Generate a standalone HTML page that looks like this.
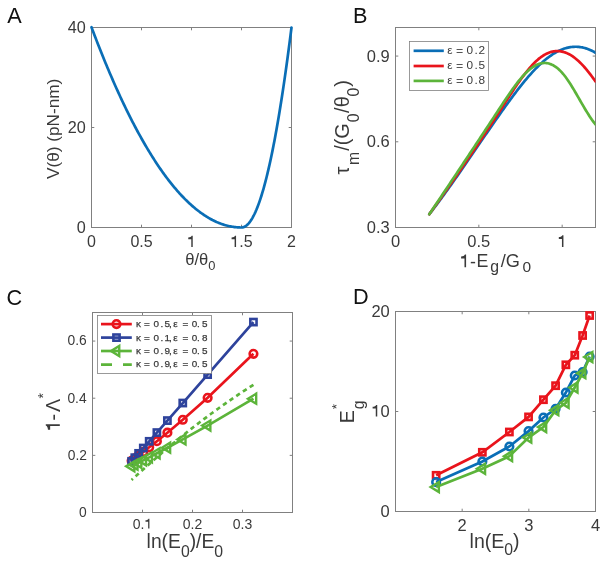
<!DOCTYPE html>
<html><head><meta charset="utf-8"><style>
html,body{margin:0;padding:0;background:#fff;}
body{width:607px;height:565px;overflow:hidden;font-family:"Liberation Sans", sans-serif;}
svg{display:block;will-change:transform;}
</style></head><body>
<svg width="607" height="565" viewBox="0 0 607 565" font-family='"Liberation Sans", sans-serif'><path d="M91.5 227.5v-2.8M91.5 27.5v2.8M141.5 227.5v-2.8M141.5 27.5v2.8M191.5 227.5v-2.8M191.5 27.5v2.8M241.5 227.5v-2.8M241.5 27.5v2.8M291.5 227.5v-2.8M291.5 27.5v2.8M91.5 227.5h2.8M291.5 227.5h-2.8M91.5 127.5h2.8M291.5 127.5h-2.8M91.5 27.5h2.8M291.5 27.5h-2.8" stroke="#808080" stroke-width="1" fill="none"/>
<rect x="91.5" y="27.5" width="200" height="200" stroke="#808080" stroke-width="1" fill="none"/>
<path d="M91.5 27.25L92.5 29.91L93.5 32.55L94.5 35.18L95.5 37.79L96.5 40.38L97.5 42.95L98.5 45.5L99.5 48.04L100.5 50.56L101.5 53.06L102.5 55.54L103.5 58.01L104.5 60.46L105.5 62.89L106.5 65.3L107.5 67.69L108.5 70.07L109.5 72.43L110.5 74.77L111.5 77.09L112.5 79.4L113.5 81.68L114.5 83.95L115.5 86.2L116.5 88.44L117.5 90.65L118.5 92.85L119.5 95.03L120.5 97.2L121.5 99.34L122.5 101.47L123.5 103.58L124.5 105.67L125.5 107.74L126.5 109.8L127.5 111.84L128.5 113.86L129.5 115.86L130.5 117.84L131.5 119.81L132.5 121.76L133.5 123.69L134.5 125.6L135.5 127.5L136.5 129.38L137.5 131.24L138.5 133.08L139.5 134.9L140.5 136.71L141.5 138.5L142.5 140.27L143.5 142.02L144.5 143.76L145.5 145.48L146.5 147.18L147.5 148.86L148.5 150.52L149.5 152.17L150.5 153.8L151.5 155.41L152.5 157L153.5 158.58L154.5 160.14L155.5 161.68L156.5 163.2L157.5 164.7L158.5 166.19L159.5 167.66L160.5 169.11L161.5 170.54L162.5 171.96L163.5 173.35L164.5 174.73L165.5 176.09L166.5 177.44L167.5 178.76L168.5 180.07L169.5 181.36L170.5 182.64L171.5 183.89L172.5 185.13L173.5 186.35L174.5 187.55L175.5 188.73L176.5 189.9L177.5 191.05L178.5 192.18L179.5 193.29L180.5 194.38L181.5 195.46L182.5 196.52L183.5 197.56L184.5 198.58L185.5 199.59L186.5 200.58L187.5 201.55L188.5 202.5L189.5 203.43L190.5 204.35L191.5 205.25L192.5 206.13L193.5 206.99L194.5 207.84L195.5 208.67L196.5 209.48L197.5 210.27L198.5 211.04L199.5 211.8L200.5 212.54L201.5 213.26L202.5 213.96L203.5 214.65L204.5 215.32L205.5 215.97L206.5 216.6L207.5 217.21L208.5 217.81L209.5 218.39L210.5 218.95L211.5 219.49L212.5 220.02L213.5 220.52L214.5 221.01L215.5 221.48L216.5 221.94L217.5 222.37L218.5 222.79L219.5 223.19L220.5 223.58L221.5 223.94L222.5 224.29L223.5 224.62L224.5 224.93L225.5 225.22L226.5 225.5L227.5 225.76L228.5 226L229.5 226.22L230.5 226.42L231.5 226.61L232.5 226.78L233.5 226.93L234.5 227.06L235.5 227.18L236.5 227.28L237.5 227.36L238.5 227.42L239.5 227.46L240.5 227.49L241.5 227.5L242.5 227.42L243.5 227.18L244.5 226.78L245.5 226.22L246.5 225.5L247.5 224.62L248.5 223.58L249.5 222.38L250.5 221.02L251.5 219.5L252.5 217.82L253.5 215.98L254.5 213.98L255.5 211.82L256.5 209.5L257.5 207.02L258.5 204.38L259.5 201.58L260.5 198.62L261.5 195.5L262.5 192.22L263.5 188.78L264.5 185.18L265.5 181.42L266.5 177.5L267.5 173.42L268.5 169.18L269.5 164.78L270.5 160.22L271.5 155.5L272.5 150.62L273.5 145.58L274.5 140.38L275.5 135.02L276.5 129.5L277.5 123.82L278.5 117.98L279.5 111.98L280.5 105.82L281.5 99.5L282.5 93.02L283.5 86.38L284.5 79.58L285.5 72.62L286.5 65.5L287.5 58.22L288.5 50.78L289.5 43.18L290.5 35.42L291.5 27.5" stroke="#0a6eb6" stroke-width="2.7" fill="none" stroke-linejoin="round" stroke-linecap="round"/>
<text x="87.05" y="247.07" font-size="16.0" fill="#3a3a3a" >0</text>
<text x="130.38" y="247.07" font-size="16.0" fill="#3a3a3a" >0.5</text>
<path d="M0.355,0L0.355,0.709L0.29,0.709C0.262,0.64 0.19,0.603 0.075,0.598L0.075,0.487L0.265,0.487L0.265,0Z" fill="#3a3a3a" transform="translate(187.05,247.07) scale(16.0,-16.0)"/>
<path d="M0.355,0L0.355,0.709L0.29,0.709C0.262,0.64 0.19,0.603 0.075,0.598L0.075,0.487L0.265,0.487L0.265,0Z" fill="#3a3a3a" transform="translate(230.38,247.07) scale(16.0,-16.0)"/><text x="239.28" y="247.07" font-size="16.0" fill="#3a3a3a" >.5</text>
<text x="287.05" y="247.07" font-size="16.0" fill="#3a3a3a" >2</text>
<text x="76.72" y="232.57" font-size="16.2" fill="#3a3a3a" >0</text>
<text x="67.71" y="132.57" font-size="16.2" fill="#3a3a3a" >20</text>
<text x="67.71" y="32.57" font-size="16.2" fill="#3a3a3a" >40</text>
<text x="0" y="0" font-size="17.2" fill="#3a3a3a" text-anchor="middle" transform="translate(59.1,128.85) rotate(-90)">V(θ) (pN-nm)</text>
<text x="185.24" y="265.3" font-size="16.6" fill="#3a3a3a">θ/θ<tspan font-size="12.9" dy="4.5">0</tspan></text>
<text x="0" y="0" font-size="22.6" fill="#111" transform="translate(7.26,22.6) scale(0.96,1)">A</text>
<path d="M395.5 227.5v-2.8M395.5 27.5v2.8M478.83 227.5v-2.8M478.83 27.5v2.8M562.17 227.5v-2.8M562.17 27.5v2.8M395.5 227.5h2.8M595.5 227.5h-2.8M395.5 141.79h2.8M595.5 141.79h-2.8M395.5 56.07h2.8M595.5 56.07h-2.8" stroke="#808080" stroke-width="1" fill="none"/>
<rect x="395.5" y="27.5" width="200" height="200" stroke="#808080" stroke-width="1" fill="none"/>
<clipPath id="cb"><rect x="395.5" y="27.5" width="200" height="200"/></clipPath>
<path d="M429.3 214.2L430.5 212.66L431.69 211.12L432.89 209.56L434.08 207.99L435.28 206.41L436.47 204.82L437.67 203.22L438.87 201.62L440.06 200L441.26 198.38L442.45 196.74L443.65 195.1L444.84 193.45L446.04 191.8L447.24 190.14L448.43 188.47L449.63 186.79L450.82 185.11L452.02 183.42L453.21 181.73L454.41 180.03L455.61 178.32L456.8 176.61L458 174.9L459.19 173.18L460.39 171.46L461.58 169.73L462.78 168.01L463.97 166.27L465.17 164.54L466.37 162.8L467.56 161.06L468.76 159.32L469.95 157.57L471.15 155.83L472.34 154.08L473.54 152.33L474.74 150.58L475.93 148.84L477.13 147.09L478.32 145.34L479.52 143.59L480.71 141.84L481.91 140.1L483.11 138.35L484.3 136.61L485.5 134.86L486.69 133.12L487.89 131.39L489.08 129.65L490.28 127.92L491.48 126.19L492.67 124.47L493.87 122.75L495.06 121.03L496.26 119.32L497.45 117.61L498.65 115.91L499.85 114.21L501.04 112.52L502.24 110.83L503.43 109.15L504.63 107.48L505.82 105.81L507.02 104.15L508.22 102.5L509.41 100.86L510.61 99.23L511.8 97.61L513 96L514.19 94.4L515.39 92.82L516.58 91.25L517.78 89.69L518.98 88.15L520.17 86.63L521.37 85.12L522.56 83.63L523.76 82.16L524.95 80.71L526.15 79.28L527.35 77.87L528.54 76.49L529.74 75.12L530.93 73.78L532.13 72.46L533.32 71.17L534.52 69.91L535.72 68.67L536.91 67.46L538.11 66.27L539.3 65.12L540.5 63.99L541.69 62.9L542.89 61.83L544.09 60.79L545.28 59.79L546.48 58.82L547.67 57.88L548.87 56.98L550.06 56.11L551.26 55.27L552.46 54.47L553.65 53.71L554.85 52.98L556.04 52.29L557.24 51.64L558.43 51.02L559.63 50.45L560.83 49.92L562.02 49.42L563.22 48.97L564.41 48.56L565.61 48.19L566.8 47.86L568 47.58L569.19 47.33L570.39 47.13L571.59 46.97L572.78 46.85L573.98 46.78L575.17 46.75L576.37 46.76L577.56 46.81L578.76 46.9L579.96 47.04L581.15 47.22L582.35 47.44L583.54 47.71L584.74 48.02L585.93 48.37L587.13 48.76L588.33 49.2L589.52 49.68L590.72 50.2L591.91 50.77L593.11 51.38L594.3 52.03L595.5 52.73" stroke="#0a6eb6" stroke-width="2.7" fill="none" stroke-linejoin="round" stroke-linecap="round" clip-path="url(#cb)"/>
<path d="M429.3 214.2L430.5 212.53L431.69 210.86L432.89 209.19L434.08 207.51L435.28 205.83L436.47 204.15L437.67 202.47L438.87 200.79L440.06 199.1L441.26 197.41L442.45 195.72L443.65 194.02L444.84 192.33L446.04 190.63L447.24 188.92L448.43 187.22L449.63 185.51L450.82 183.8L452.02 182.09L453.21 180.37L454.41 178.65L455.61 176.93L456.8 175.2L458 173.48L459.19 171.75L460.39 170.01L461.58 168.28L462.78 166.54L463.97 164.79L465.17 163.05L466.37 161.3L467.56 159.55L468.76 157.79L469.95 156.03L471.15 154.27L472.34 152.51L473.54 150.74L474.74 148.97L475.93 147.19L477.13 145.41L478.32 143.63L479.52 141.85L480.71 140.06L481.91 138.27L483.11 136.47L484.3 134.67L485.5 132.87L486.69 131.06L487.89 129.25L489.08 127.44L490.28 125.62L491.48 123.8L492.67 121.97L493.87 120.14L495.06 118.31L496.26 116.47L497.45 114.63L498.65 112.78L499.85 110.93L501.04 109.08L502.24 107.22L503.43 105.36L504.63 103.5L505.82 101.64L507.02 99.79L508.22 97.94L509.41 96.1L510.61 94.27L511.8 92.44L513 90.64L514.19 88.85L515.39 87.07L516.58 85.32L517.78 83.59L518.98 81.88L520.17 80.2L521.37 78.54L522.56 76.92L523.76 75.32L524.95 73.76L526.15 72.24L527.35 70.75L528.54 69.31L529.74 67.9L530.93 66.54L532.13 65.23L533.32 63.96L534.52 62.74L535.72 61.57L536.91 60.46L538.11 59.4L539.3 58.4L540.5 57.47L541.69 56.59L542.89 55.77L544.09 55.03L545.28 54.34L546.48 53.72L547.67 53.17L548.87 52.68L550.06 52.26L551.26 51.9L552.46 51.61L553.65 51.38L554.85 51.22L556.04 51.12L557.24 51.08L558.43 51.11L559.63 51.2L560.83 51.36L562.02 51.58L563.22 51.87L564.41 52.22L565.61 52.63L566.8 53.11L568 53.65L569.19 54.25L570.39 54.92L571.59 55.65L572.78 56.44L573.98 57.29L575.17 58.21L576.37 59.18L577.56 60.21L578.76 61.29L579.96 62.43L581.15 63.62L582.35 64.86L583.54 66.15L584.74 67.5L585.93 68.88L587.13 70.32L588.33 71.8L589.52 73.32L590.72 74.88L591.91 76.48L593.11 78.13L594.3 79.81L595.5 81.52" stroke="#e9141c" stroke-width="2.7" fill="none" stroke-linejoin="round" stroke-linecap="round" clip-path="url(#cb)"/>
<path d="M429.3 214.2L430.5 212.42L431.69 210.64L432.89 208.86L434.08 207.08L435.28 205.3L436.47 203.52L437.67 201.74L438.87 199.95L440.06 198.17L441.26 196.39L442.45 194.6L443.65 192.82L444.84 191.03L446.04 189.24L447.24 187.46L448.43 185.67L449.63 183.88L450.82 182.09L452.02 180.3L453.21 178.51L454.41 176.72L455.61 174.92L456.8 173.13L458 171.34L459.19 169.54L460.39 167.75L461.58 165.95L462.78 164.15L463.97 162.36L465.17 160.56L466.37 158.76L467.56 156.96L468.76 155.16L469.95 153.35L471.15 151.55L472.34 149.75L473.54 147.94L474.74 146.14L475.93 144.33L477.13 142.53L478.32 140.72L479.52 138.91L480.71 137.1L481.91 135.29L483.11 133.48L484.3 131.66L485.5 129.85L486.69 128.04L487.89 126.22L489.08 124.41L490.28 122.59L491.48 120.77L492.67 118.95L493.87 117.13L495.06 115.31L496.26 113.49L497.45 111.67L498.65 109.84L499.85 108.02L501.04 106.19L502.24 104.37L503.43 102.56L504.63 100.75L505.82 98.96L507.02 97.17L508.22 95.41L509.41 93.66L510.61 91.94L511.8 90.24L513 88.57L514.19 86.92L515.39 85.31L516.58 83.73L517.78 82.19L518.98 80.69L520.17 79.24L521.37 77.82L522.56 76.46L523.76 75.14L524.95 73.88L526.15 72.68L527.35 71.53L528.54 70.44L529.74 69.42L530.93 68.46L532.13 67.57L533.32 66.75L534.52 66L535.72 65.33L536.91 64.74L538.11 64.23L539.3 63.81L540.5 63.47L541.69 63.22L542.89 63.05L544.09 62.97L545.28 62.99L546.48 63.08L547.67 63.27L548.87 63.55L550.06 63.92L551.26 64.38L552.46 64.92L553.65 65.56L554.85 66.3L556.04 67.12L557.24 68.03L558.43 69.04L559.63 70.14L560.83 71.34L562.02 72.62L563.22 74.01L564.41 75.48L565.61 77.05L566.8 78.7L568 80.42L569.19 82.21L570.39 84.07L571.59 85.97L572.78 87.93L573.98 89.92L575.17 91.95L576.37 94L577.56 96.06L578.76 98.14L579.96 100.23L581.15 102.31L582.35 104.38L583.54 106.43L584.74 108.46L585.93 110.45L587.13 112.41L588.33 114.32L589.52 116.18L590.72 117.98L591.91 119.71L593.11 121.36L594.3 122.94L595.5 124.42" stroke="#5cb43a" stroke-width="2.7" fill="none" stroke-linejoin="round" stroke-linecap="round" clip-path="url(#cb)"/>
<text x="390.91" y="246.92" font-size="16.5" fill="#3a3a3a" >0</text>
<text x="467.36" y="246.92" font-size="16.5" fill="#3a3a3a" >0.5</text>
<path d="M0.355,0L0.355,0.709L0.29,0.709C0.262,0.64 0.19,0.603 0.075,0.598L0.075,0.487L0.265,0.487L0.265,0Z" fill="#3a3a3a" transform="translate(557.58,246.92) scale(16.5,-16.5)"/>
<text x="366.79" y="233.18" font-size="16.5" fill="#3a3a3a" >0.3</text>
<text x="366.79" y="147.46" font-size="16.5" fill="#3a3a3a" >0.6</text>
<text x="366.84" y="61.75" font-size="16.5" fill="#3a3a3a" >0.9</text>
<rect x="409.5" y="41.5" width="79" height="49" fill="#fff" stroke="#808080" stroke-width="0.8"/>
<path d="M413.6 50.8H443.8" stroke="#0a6eb6" stroke-width="2.7"/>
<text x="447.2" y="53.9" font-size="11.8" fill="#3a3a3a" >ε</text>
<text x="466.44" y="53.9" font-size="11.8" fill="#3a3a3a" >0</text>
<text x="474.52" y="53.9" font-size="11.8" fill="#3a3a3a" >.</text>
<text x="478.41" y="53.9" font-size="11.8" fill="#3a3a3a" >2</text>
<text x="0" y="0" font-size="11.8" fill="#555" transform="translate(455.99,54.5) scale(1.05,1)">=</text>
<path d="M413.6 66H443.8" stroke="#e9141c" stroke-width="2.7"/>
<text x="447.2" y="69.1" font-size="11.8" fill="#3a3a3a" >ε</text>
<text x="466.44" y="69.1" font-size="11.8" fill="#3a3a3a" >0</text>
<text x="474.52" y="69.1" font-size="11.8" fill="#3a3a3a" >.</text>
<text x="478.53" y="69.1" font-size="11.8" fill="#3a3a3a" >5</text>
<text x="0" y="0" font-size="11.8" fill="#555" transform="translate(455.99,69.7) scale(1.05,1)">=</text>
<path d="M413.6 80.9H443.8" stroke="#5cb43a" stroke-width="2.7"/>
<text x="447.2" y="84" font-size="11.8" fill="#3a3a3a" >ε</text>
<text x="466.44" y="84" font-size="11.8" fill="#3a3a3a" >0</text>
<text x="474.52" y="84" font-size="11.8" fill="#3a3a3a" >.</text>
<text x="478.49" y="84" font-size="11.8" fill="#3a3a3a" >8</text>
<text x="0" y="0" font-size="11.8" fill="#555" transform="translate(455.99,84.6) scale(1.05,1)">=</text>
<g transform="translate(349,174.2) rotate(-90)" fill="#3a3a3a"><text x="-0.28" y="0" font-size="20" fill="#3a3a3a" >τ</text><text x="9.15" y="10.2" font-size="15.8" fill="#3a3a3a" >m</text><text x="23.4" y="0" font-size="20" fill="#3a3a3a" >/</text><text x="28.96" y="0" font-size="20" fill="#3a3a3a" >(</text><text x="35.49" y="0" font-size="20" fill="#3a3a3a" >G</text><text x="51.88" y="10.2" font-size="15.8" fill="#3a3a3a" >0</text><text x="61.2" y="0" font-size="20" fill="#3a3a3a" >/</text><text x="66.96" y="0" font-size="20" fill="#3a3a3a" >θ</text><text x="77.68" y="10.2" font-size="15.8" fill="#3a3a3a" >0</text><text x="87.38" y="0" font-size="20" fill="#3a3a3a" >)</text></g>
<path d="M0.355,0L0.355,0.709L0.29,0.709C0.262,0.64 0.19,0.603 0.075,0.598L0.075,0.487L0.265,0.487L0.265,0Z" fill="#3a3a3a" transform="translate(459.77,267.2) scale(17.8,-17.8)"/><text x="470.11" y="268.2" font-size="17.8" fill="#3a3a3a" >-</text><text x="476.54" y="267.2" font-size="17.8" fill="#3a3a3a" >E</text><text x="490.34" y="271.8" font-size="15.8" fill="#3a3a3a" >g</text><text x="500.7" y="267.4" font-size="18.2" fill="#3a3a3a" >/</text><text x="505.68" y="267.4" font-size="18.2" fill="#3a3a3a" >G</text><text x="522.59" y="271.7" font-size="15.5" fill="#3a3a3a" >0</text>
<text x="0" y="0" font-size="22.6" fill="#111" transform="translate(353.12,22.6) scale(0.96,1)">B</text>
<path d="M142.5 512.5v-2.8M142.5 312.5v2.8M192.5 512.5v-2.8M192.5 312.5v2.8M242.5 512.5v-2.8M242.5 312.5v2.8M92.5 512.5h2.8M292.5 512.5h-2.8M92.5 455.36h2.8M292.5 455.36h-2.8M92.5 398.21h2.8M292.5 398.21h-2.8M92.5 341.07h2.8M292.5 341.07h-2.8" stroke="#808080" stroke-width="1" fill="none"/>
<rect x="92.5" y="312.5" width="200" height="200" stroke="#808080" stroke-width="1" fill="none"/>
<g><path d="M253.44 353.8L207.63 397.81L182.77 419.77L167.39 432.68L156.88 441.22L149.19 447.31L143.29 451.89L138.61 455.47L134.8 458.36L131.62 460.74" stroke="#e9141c" stroke-width="2.7" fill="none"/><circle cx="253.44" cy="353.8" r="3.8" fill="none" stroke="#e9141c" stroke-width="2.6"/><circle cx="207.63" cy="397.81" r="3.8" fill="none" stroke="#e9141c" stroke-width="2.6"/><circle cx="182.77" cy="419.77" r="3.8" fill="none" stroke="#e9141c" stroke-width="2.6"/><circle cx="167.39" cy="432.68" r="3.8" fill="none" stroke="#e9141c" stroke-width="2.6"/><circle cx="156.88" cy="441.22" r="3.8" fill="none" stroke="#e9141c" stroke-width="2.6"/><circle cx="149.19" cy="447.31" r="3.8" fill="none" stroke="#e9141c" stroke-width="2.6"/><circle cx="143.29" cy="451.89" r="3.8" fill="none" stroke="#e9141c" stroke-width="2.6"/><circle cx="138.61" cy="455.47" r="3.8" fill="none" stroke="#e9141c" stroke-width="2.6"/><circle cx="134.8" cy="458.36" r="3.8" fill="none" stroke="#e9141c" stroke-width="2.6"/><circle cx="131.62" cy="460.74" r="3.8" fill="none" stroke="#e9141c" stroke-width="2.6"/><path d="M253.44 322.08L207.63 374.62L182.77 403.04L167.39 420.58L156.88 432.57L149.19 441.32L143.29 448.03L138.61 453.36L134.8 457.69L131.62 461.3" stroke="#2e439c" stroke-width="2.7" fill="none"/><rect x="250.34" y="318.98" width="6.2" height="6.2" fill="none" stroke="#2e439c" stroke-width="2.6"/><rect x="204.53" y="371.52" width="6.2" height="6.2" fill="none" stroke="#2e439c" stroke-width="2.6"/><rect x="179.67" y="399.94" width="6.2" height="6.2" fill="none" stroke="#2e439c" stroke-width="2.6"/><rect x="164.29" y="417.48" width="6.2" height="6.2" fill="none" stroke="#2e439c" stroke-width="2.6"/><rect x="153.78" y="429.47" width="6.2" height="6.2" fill="none" stroke="#2e439c" stroke-width="2.6"/><rect x="146.09" y="438.22" width="6.2" height="6.2" fill="none" stroke="#2e439c" stroke-width="2.6"/><rect x="140.19" y="444.93" width="6.2" height="6.2" fill="none" stroke="#2e439c" stroke-width="2.6"/><rect x="135.51" y="450.26" width="6.2" height="6.2" fill="none" stroke="#2e439c" stroke-width="2.6"/><rect x="131.7" y="454.59" width="6.2" height="6.2" fill="none" stroke="#2e439c" stroke-width="2.6"/><rect x="128.52" y="458.2" width="6.2" height="6.2" fill="none" stroke="#2e439c" stroke-width="2.6"/><path d="M253.44 398.7L207.63 425.55L182.77 439.41L167.39 447.73L156.88 453.31L149.19 457.33L143.29 460.38L138.61 462.79L134.8 464.73L131.62 466.34" stroke="#5cb43a" stroke-width="2.7" fill="none"/><path d="M247.98 398.7L256.18 393.7L256.18 403.7Z" fill="none" stroke="#5cb43a" stroke-width="2.4" stroke-linejoin="miter"/><path d="M202.16 425.55L210.36 420.55L210.36 430.55Z" fill="none" stroke="#5cb43a" stroke-width="2.4" stroke-linejoin="miter"/><path d="M177.3 439.41L185.5 434.41L185.5 444.41Z" fill="none" stroke="#5cb43a" stroke-width="2.4" stroke-linejoin="miter"/><path d="M161.93 447.73L170.13 442.73L170.13 452.73Z" fill="none" stroke="#5cb43a" stroke-width="2.4" stroke-linejoin="miter"/><path d="M151.41 453.31L159.61 448.31L159.61 458.31Z" fill="none" stroke="#5cb43a" stroke-width="2.4" stroke-linejoin="miter"/><path d="M143.72 457.33L151.92 452.33L151.92 462.33Z" fill="none" stroke="#5cb43a" stroke-width="2.4" stroke-linejoin="miter"/><path d="M137.82 460.38L146.02 455.38L146.02 465.38Z" fill="none" stroke="#5cb43a" stroke-width="2.4" stroke-linejoin="miter"/><path d="M133.14 462.79L141.34 457.79L141.34 467.79Z" fill="none" stroke="#5cb43a" stroke-width="2.4" stroke-linejoin="miter"/><path d="M129.33 464.73L137.53 459.73L137.53 469.73Z" fill="none" stroke="#5cb43a" stroke-width="2.4" stroke-linejoin="miter"/><path d="M126.15 466.34L134.35 461.34L134.35 471.34Z" fill="none" stroke="#5cb43a" stroke-width="2.4" stroke-linejoin="miter"/><path d="M253.45 384.84L251.38 386.15L249.32 387.47L247.25 388.8L245.19 390.14L243.12 391.49L241.06 392.85L238.99 394.22L236.93 395.61L234.86 397L232.8 398.4L230.73 399.82L228.67 401.24L226.6 402.68L224.54 404.12L222.47 405.58L220.41 407.04L218.34 408.52L216.28 410.01L214.21 411.5L212.14 413.01L210.08 414.53L208.01 416.06L205.95 417.6L203.88 419.15L201.82 420.71L199.75 422.28L197.69 423.86L195.62 425.45L193.56 427.05L191.49 428.67L189.43 430.29L187.36 431.92L185.3 433.57L183.23 435.22L181.17 436.89L179.1 438.56L177.04 440.25L174.97 441.94L172.91 443.65L170.84 445.37L168.77 447.1L166.71 448.83L164.64 450.58L162.58 452.34L160.51 454.11L158.45 455.89L156.38 457.68L154.32 459.48L152.25 461.29L150.19 463.12L148.12 464.95L146.06 466.79L143.99 468.64L141.93 470.51L139.86 472.38L137.8 474.27L135.73 476.16L133.67 478.07L131.6 479.98" stroke="#5cb43a" stroke-width="2.7" stroke-dasharray="4.4 3.66" fill="none"/></g>
<text x="132.77" y="528.57" font-size="14.0" fill="#3a3a3a" >0.</text><path d="M0.355,0L0.355,0.709L0.29,0.709C0.262,0.64 0.19,0.603 0.075,0.598L0.075,0.487L0.265,0.487L0.265,0Z" fill="#3a3a3a" transform="translate(144.45,528.57) scale(14.0,-14.0)"/>
<text x="182.77" y="528.57" font-size="14.0" fill="#3a3a3a" >0.2</text>
<text x="232.77" y="528.57" font-size="14.0" fill="#3a3a3a" >0.3</text>
<text x="79.06" y="516.85" font-size="13.8" fill="#3a3a3a" >0</text>
<text x="67.71" y="459.7" font-size="13.8" fill="#3a3a3a" >0.2</text>
<text x="67.42" y="402.56" font-size="13.8" fill="#3a3a3a" >0.4</text>
<text x="67.62" y="345.42" font-size="13.8" fill="#3a3a3a" >0.6</text>
<rect x="97.5" y="315.5" width="114" height="58" fill="#fff" stroke="#808080" stroke-width="0.8"/>
<path d="M101 324.1H131.8" stroke="#e9141c" stroke-width="2.7"/>
<circle cx="116.5" cy="324.1" r="3.8" fill="none" stroke="#e9141c" stroke-width="2.6"/>
<text x="135.93 144.02 153.41 160.4 164.6 169.01 173.26 182.42 191.71 197.1 201.9" y="326.8" font-size="9.9" fill="#3a3a3a" stroke="#3a3a3a" stroke-width="0.25">κ=0.5,ε=0.5</text>
<path d="M101 337.6H131.8" stroke="#2e439c" stroke-width="2.7"/>
<rect x="113.4" y="334.5" width="6.2" height="6.2" fill="none" stroke="#2e439c" stroke-width="2.6"/>
<text x="135.93 144.02 153.41 160.4 164.6 169.01 173.26 182.42 191.71 197.1 201.9" y="340.6" font-size="9.9" fill="#3a3a3a" stroke="#3a3a3a" stroke-width="0.25">κ=0.1,ε=0.8</text>
<path d="M101 351.0H131.8" stroke="#5cb43a" stroke-width="2.7"/>
<path d="M111.03 351L119.23 346L119.23 356Z" fill="none" stroke="#5cb43a" stroke-width="2.4" stroke-linejoin="miter"/>
<text x="135.93 144.02 153.41 160.4 164.6 169.01 173.26 182.42 191.71 197.1 201.9" y="353.8" font-size="9.9" fill="#3a3a3a" stroke="#3a3a3a" stroke-width="0.25">κ=0.9,ε=0.5</text>
<path d="M101 364.6H112M123 364.6H131.8" stroke="#5cb43a" stroke-width="2.7"/>
<text x="135.93 144.02 153.41 160.4 164.6 169.01 173.26 182.42 191.71 197.1 201.9" y="366.7" font-size="9.9" fill="#3a3a3a" stroke="#3a3a3a" stroke-width="0.25">κ=0.9,ε=0.5</text>
<g transform="translate(59.8,429.7) rotate(-90)" fill="#3a3a3a"><path d="M0.355,0L0.355,0.709L0.29,0.709C0.262,0.64 0.19,0.603 0.075,0.598L0.075,0.487L0.265,0.487L0.265,0Z" fill="#3a3a3a" transform="translate(-1.49,0) scale(19.8,-19.8)"/><text x="9.32" y="0" font-size="19.8" fill="#3a3a3a" >-</text><text x="17.8" y="0" font-size="19.8" fill="#3a3a3a" >Λ</text><text x="31.17" y="-12.1" font-size="14" fill="#3a3a3a" >*</text></g>
<text x="146.6" y="547.6" font-size="19.3" fill="#3a3a3a">ln(E<tspan font-size="15.8" dy="8.9">0</tspan><tspan dy="-8.9">)/E</tspan><tspan font-size="15.8" dy="8.9">0</tspan></text>
<text x="0" y="0" font-size="22.6" fill="#111" transform="translate(6.5,304.7) scale(0.96,1)">C</text>
<path d="M462.17 511.5v-2.8M462.17 311.5v2.8M528.83 511.5v-2.8M528.83 311.5v2.8M595.5 511.5v-2.8M595.5 311.5v2.8M395.5 511.5h2.8M595.5 511.5h-2.8M395.5 411.5h2.8M595.5 411.5h-2.8M395.5 311.5h2.8M595.5 311.5h-2.8" stroke="#808080" stroke-width="1" fill="none"/>
<rect x="395.5" y="311.5" width="200" height="200" stroke="#808080" stroke-width="1" fill="none"/>
<g><path d="M436.13 475.3L482.34 452.3L509.37 432L528.55 416.9L543.43 399.7L555.58 385.7L565.86 364.8L574.76 355.2L582.61 335.5L589.63 315.5" stroke="#e9141c" stroke-width="2.7" fill="none"/><rect x="433.03" y="472.2" width="6.2" height="6.2" fill="none" stroke="#e9141c" stroke-width="2.6"/><rect x="479.24" y="449.2" width="6.2" height="6.2" fill="none" stroke="#e9141c" stroke-width="2.6"/><rect x="506.27" y="428.9" width="6.2" height="6.2" fill="none" stroke="#e9141c" stroke-width="2.6"/><rect x="525.45" y="413.8" width="6.2" height="6.2" fill="none" stroke="#e9141c" stroke-width="2.6"/><rect x="540.33" y="396.6" width="6.2" height="6.2" fill="none" stroke="#e9141c" stroke-width="2.6"/><rect x="552.48" y="382.6" width="6.2" height="6.2" fill="none" stroke="#e9141c" stroke-width="2.6"/><rect x="562.76" y="361.7" width="6.2" height="6.2" fill="none" stroke="#e9141c" stroke-width="2.6"/><rect x="571.66" y="352.1" width="6.2" height="6.2" fill="none" stroke="#e9141c" stroke-width="2.6"/><rect x="579.51" y="332.4" width="6.2" height="6.2" fill="none" stroke="#e9141c" stroke-width="2.6"/><rect x="586.53" y="312.4" width="6.2" height="6.2" fill="none" stroke="#e9141c" stroke-width="2.6"/><path d="M436.13 482.1L482.34 461.5L509.37 446.5L528.55 431.1L543.43 417.5L555.58 408.8L565.86 392.5L574.76 375.5L582.61 372L589.63 356.5" stroke="#0a6eb6" stroke-width="2.7" fill="none"/><circle cx="436.13" cy="482.1" r="3.8" fill="none" stroke="#0a6eb6" stroke-width="2.6"/><circle cx="482.34" cy="461.5" r="3.8" fill="none" stroke="#0a6eb6" stroke-width="2.6"/><circle cx="509.37" cy="446.5" r="3.8" fill="none" stroke="#0a6eb6" stroke-width="2.6"/><circle cx="528.55" cy="431.1" r="3.8" fill="none" stroke="#0a6eb6" stroke-width="2.6"/><circle cx="543.43" cy="417.5" r="3.8" fill="none" stroke="#0a6eb6" stroke-width="2.6"/><circle cx="555.58" cy="408.8" r="3.8" fill="none" stroke="#0a6eb6" stroke-width="2.6"/><circle cx="565.86" cy="392.5" r="3.8" fill="none" stroke="#0a6eb6" stroke-width="2.6"/><circle cx="574.76" cy="375.5" r="3.8" fill="none" stroke="#0a6eb6" stroke-width="2.6"/><circle cx="582.61" cy="372" r="3.8" fill="none" stroke="#0a6eb6" stroke-width="2.6"/><circle cx="589.63" cy="356.5" r="3.8" fill="none" stroke="#0a6eb6" stroke-width="2.6"/><path d="M436.13 487.1L482.34 468.8L509.37 456.2L528.55 437.6L543.43 427L555.58 410.2L565.86 402.8L574.76 387.5L582.61 373.2L589.63 357.1" stroke="#5cb43a" stroke-width="2.7" fill="none"/><path d="M430.66 487.1L438.86 482.1L438.86 492.1Z" fill="none" stroke="#5cb43a" stroke-width="2.4" stroke-linejoin="miter"/><path d="M476.87 468.8L485.07 463.8L485.07 473.8Z" fill="none" stroke="#5cb43a" stroke-width="2.4" stroke-linejoin="miter"/><path d="M503.9 456.2L512.1 451.2L512.1 461.2Z" fill="none" stroke="#5cb43a" stroke-width="2.4" stroke-linejoin="miter"/><path d="M523.08 437.6L531.28 432.6L531.28 442.6Z" fill="none" stroke="#5cb43a" stroke-width="2.4" stroke-linejoin="miter"/><path d="M537.96 427L546.16 422L546.16 432Z" fill="none" stroke="#5cb43a" stroke-width="2.4" stroke-linejoin="miter"/><path d="M550.11 410.2L558.31 405.2L558.31 415.2Z" fill="none" stroke="#5cb43a" stroke-width="2.4" stroke-linejoin="miter"/><path d="M560.39 402.8L568.59 397.8L568.59 407.8Z" fill="none" stroke="#5cb43a" stroke-width="2.4" stroke-linejoin="miter"/><path d="M569.29 387.5L577.49 382.5L577.49 392.5Z" fill="none" stroke="#5cb43a" stroke-width="2.4" stroke-linejoin="miter"/><path d="M577.14 373.2L585.34 368.2L585.34 378.2Z" fill="none" stroke="#5cb43a" stroke-width="2.4" stroke-linejoin="miter"/><path d="M584.17 357.1L592.37 352.1L592.37 362.1Z" fill="none" stroke="#5cb43a" stroke-width="2.4" stroke-linejoin="miter"/></g>
<text x="457.58" y="531.02" font-size="16.5" fill="#3a3a3a" >2</text>
<text x="524.25" y="531.02" font-size="16.5" fill="#3a3a3a" >3</text>
<text x="590.91" y="531.02" font-size="16.5" fill="#3a3a3a" >4</text>
<text x="380.57" y="516.58" font-size="16.5" fill="#3a3a3a" >0</text>
<path d="M0.355,0L0.355,0.709L0.29,0.709C0.262,0.64 0.19,0.603 0.075,0.598L0.075,0.487L0.265,0.487L0.265,0Z" fill="#3a3a3a" transform="translate(371.39,416.58) scale(16.5,-16.5)"/><text x="380.57" y="416.58" font-size="16.5" fill="#3a3a3a" >0</text>
<text x="371.39" y="316.58" font-size="16.5" fill="#3a3a3a" >20</text>
<g transform="translate(353.6,421.6) rotate(-90)" fill="#3a3a3a"><text x="-1.6" y="0" font-size="19.5" fill="#3a3a3a" >E</text><text x="12.44" y="9.9" font-size="15.8" fill="#3a3a3a" >g</text><text x="12.28" y="-12.5" font-size="13.5" fill="#3a3a3a" >*</text></g>
<text x="469.6" y="547.8" font-size="19.5" fill="#3a3a3a">ln(E<tspan font-size="15.8" dy="7.3">0</tspan><tspan dy="-7.3">)</tspan></text>
<text x="0" y="0" font-size="22.6" fill="#111" transform="translate(353.12,304.4) scale(0.96,1)">D</text></svg>
</body></html>
